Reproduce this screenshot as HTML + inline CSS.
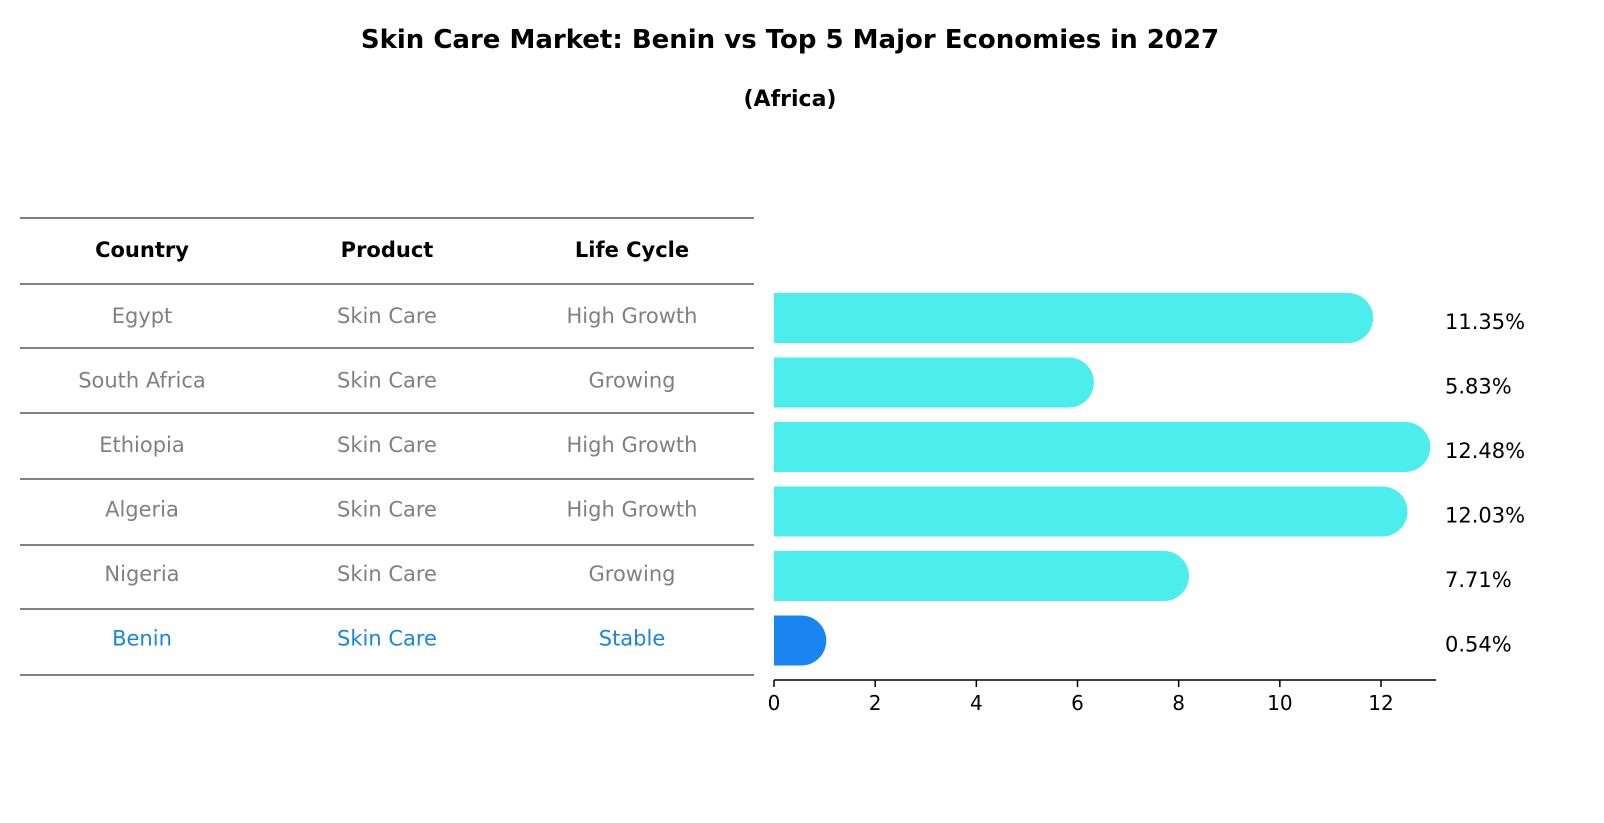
<!DOCTYPE html>
<html><head><meta charset="utf-8"><style>
body{margin:0;background:#fff;font-family:"Liberation Sans","DejaVu Sans",sans-serif;}
svg{display:block}
</style></head><body>
<svg id="chart" width="1604" height="823" viewBox="0 0 1604 823" font-family="'DejaVu Sans','Liberation Sans',sans-serif">
<text x="790" y="48" text-anchor="middle" font-size="26" font-weight="bold">Skin Care Market: Benin vs Top 5 Major Economies in 2027</text>
<text x="790" y="106" text-anchor="middle" font-size="22" font-weight="bold">(Africa)</text>
<g id="table"></g>
<g id="bars"></g>
<g id="axis"></g>
</svg>
<script>
const countries = ["Egypt","South Africa","Ethiopia","Algeria","Nigeria","Benin"];
const products = ["Skin Care","Skin Care","Skin Care","Skin Care","Skin Care","Skin Care"];
const lifeCycles = ["High Growth","Growing","High Growth","High Growth","Growing","Stable"];
const values = [11.35,5.83,12.48,12.03,7.71,0.54];
const tickValues = [0,2,4,6,8,10,12];

const NS="http://www.w3.org/2000/svg";
function mk(tag,attrs,parent,text){const e=document.createElementNS(NS,tag);for(const k in attrs)e.setAttribute(k,attrs[k]);if(text!==undefined)e.textContent=text;parent.appendChild(e);return e;}
const x0=774, pxPerUnit=(1381-774)/12;
const xScale=v=>x0+v*pxPerUnit;
const rowY=i=>316+i*64.5;
const barH=50;

const table=document.getElementById('table');
const lineYs=[218,284,348,413,479,545,609,675];
lineYs.forEach(y=>{const l=mk('line',{x1:20,x2:754,y1:y,y2:y,stroke:'#000','stroke-width':1},table);

});
const colX=[142,387,632];
["Country","Product","Life Cycle"].forEach((h,j)=>{const t=mk('text',{x:colX[j],y:257,'text-anchor':'middle','font-size':21,'font-weight':'bold'},table,h);

});
countries.forEach((c,i)=>{
  const col=c==="Benin"?"#1a85e0":"#808080";
  [c,products[i],lifeCycles[i]].forEach((v,j)=>{
    const t=mk('text',{x:colX[j],y:rowY(i)+7,'text-anchor':'middle','font-size':21,fill:col},table,v);
    
    
  });
});

const bars=document.getElementById('bars');
values.forEach((v,i)=>{
  const col=countries[i]==="Benin"?"#1a85f0":"#4beeec";
  const cy=rowY(i)+2, r=barH/2, xe=xScale(v);
  const p=mk('path',{d:`M${x0},${cy-r} L${xe},${cy-r} A${r},${r} 0 0 1 ${xe},${cy+r} L${x0},${cy+r} Z`,fill:col},bars);
  
  
  const t=mk('text',{x:1445,y:cy+11,'font-size':21},bars,v.toFixed(2)+'%');
  
  
});

const axis=document.getElementById('axis');
const al=mk('line',{x1:x0,x2:1436,y1:680,y2:680,stroke:'#000','stroke-width':1.5},axis);


tickValues.forEach(v=>{
  const tl=mk('line',{x1:xScale(v),x2:xScale(v),y1:680,y2:687,stroke:'#000','stroke-width':1.5},axis);
  
  
  const tt=mk('text',{x:xScale(v),y:710,'text-anchor':'middle','font-size':20},axis,v);
  
  
});
</script>
</body></html>
